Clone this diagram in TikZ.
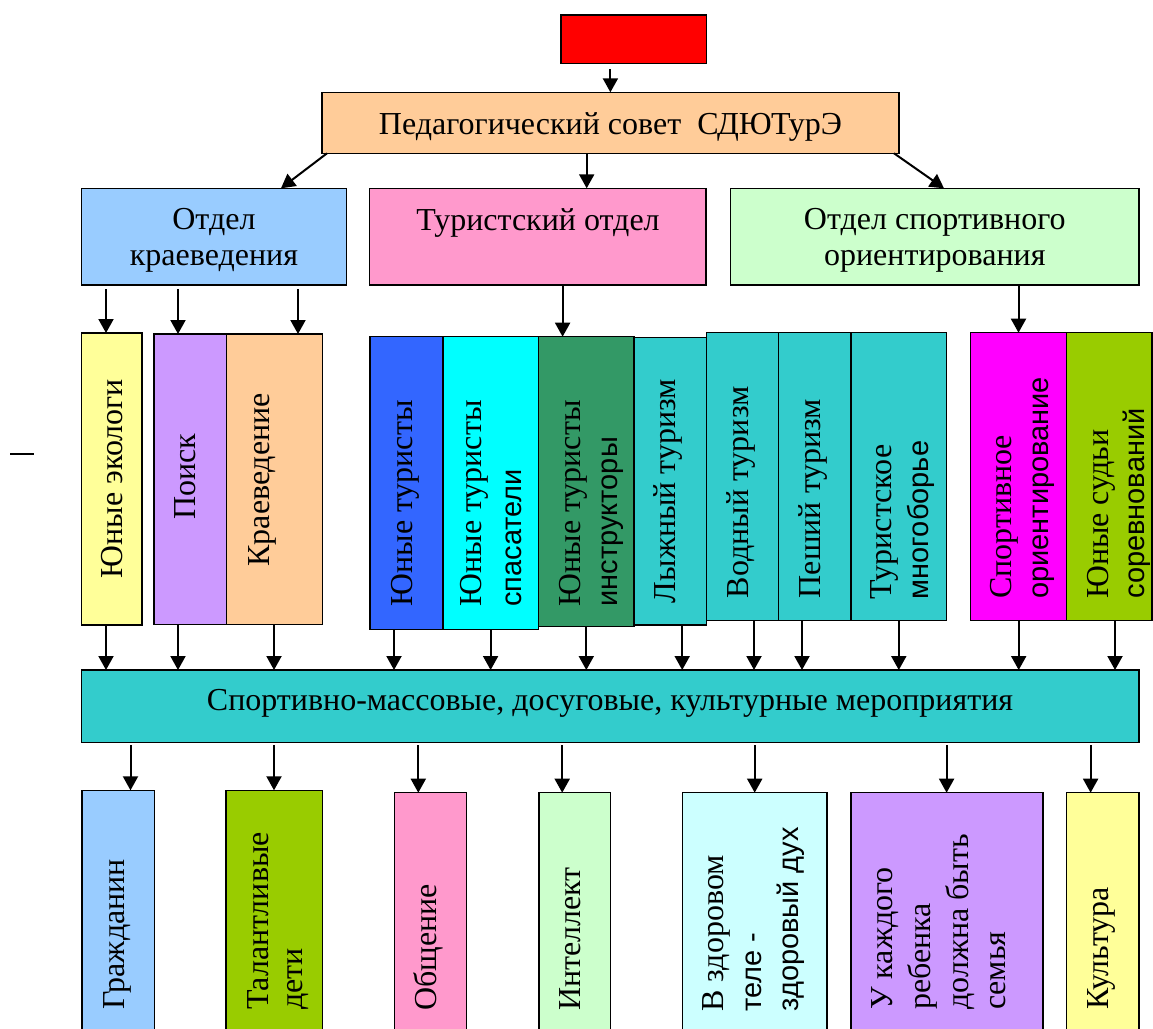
\documentclass[tikz,border=0pt]{standalone}
\usepackage{fontspec}
\setmainfont{Liberation Serif}
\newfontfamily\sansf{Liberation Sans}
\usetikzlibrary{arrows.meta}
\definecolor{cRed}{HTML}{FF0000}
\definecolor{cPeach}{HTML}{FFCC99}
\definecolor{cSky}{HTML}{99CCFF}
\definecolor{cPink}{HTML}{FF99CC}
\definecolor{cMint}{HTML}{CCFFCC}
\definecolor{cLemon}{HTML}{FFFF99}
\definecolor{cLilac}{HTML}{CC99FF}
\definecolor{cBlue}{HTML}{3366FF}
\definecolor{cAqua}{HTML}{00FFFF}
\definecolor{cSea}{HTML}{339966}
\definecolor{cTeal}{HTML}{33CCCC}
\definecolor{cMag}{HTML}{FF00FF}
\definecolor{cLime}{HTML}{99CC00}
\definecolor{cIce}{HTML}{CCFFFF}
\tikzset{
  box/.style={draw=black, line width=1.5pt, inner sep=0pt, outer sep=0pt},
  arr/.style={line width=2pt, -{Triangle[length=14pt,width=15pt]}},
  ht/.style={inner sep=0pt, anchor=base, font=\fontsize{32}{36}\selectfont},
  vt/.style={inner sep=0pt, anchor=base west, rotate=90, font=\fontsize{32}{36}\selectfont},
  vs/.style={inner sep=0pt, anchor=base west, rotate=90, font=\sansf\fontsize{29}{34}\selectfont},
}
\newcommand\mkbox[6]{\node[box,fill=#6,minimum width={(#4-#2)*1pt},minimum height={(#5-#3)*1pt}] (#1) at ({(#2+#4)/2},{(#3+#5)/2}) {};}
\begin{document}
\begin{tikzpicture}[x=1pt,y=-1pt]
\useasboundingbox (0,0) rectangle (1153,1028);
\clip (0,0) rectangle (1153,1028);
% top
\mkbox{red}{561}{15}{706.5}{63.3}{cRed}
\mkbox{ped}{322.2}{92.3}{898.8}{153.3}{cPeach}
\mkbox{kraev}{81.5}{188.3}{346.3}{285}{cSky}
\mkbox{tur}{369.7}{188.3}{706.2}{285}{cPink}
\mkbox{sport}{730.4}{188.3}{1139.2}{285}{cMint}
\node[ht] (ped-t) at (610.5,134.3) {Педагогический совет\ \ СДЮТурЭ};
\node[ht] (kraev-t1) at (213.9,229) {Отдел};
\node[ht] (kraev-t2) at (213.9,265.7) {краеведения};
\node[ht] (tur-t) at (538,230) {Туристский отдел};
\node[ht] (sport-t1) at (934.8,229) {Отдел спортивного};
\node[ht] (sport-t2) at (934.8,265.7) {ориентирования};
% middle
\mkbox{eko}{81.5}{333}{142}{625}{cLemon}
\mkbox{poisk}{154.2}{334}{226.6}{624.3}{cLilac}
\mkbox{krv}{226.6}{334}{322.6}{624.3}{cPeach}
\mkbox{jt}{370}{336.7}{442.8}{629.3}{cBlue}
\mkbox{jts}{442.8}{336.7}{538.5}{629.3}{cAqua}
\mkbox{jti}{538.5}{336.7}{634.2}{626.7}{cSea}
\mkbox{lyzh}{634.2}{337.3}{706.5}{625}{cTeal}
\mkbox{vod}{706.5}{332.7}{778.5}{620.7}{cTeal}
\mkbox{pesh}{778.5}{332.7}{850.8}{620.7}{cTeal}
\mkbox{mnog}{850.8}{332.7}{946.7}{620.7}{cTeal}
\mkbox{sor}{970.4}{332.7}{1066.7}{620.7}{cMag}
\mkbox{sud}{1066.7}{332.7}{1152}{620.7}{cLime}
\node[vt] (eko-t) at (122.5,578.3) {Юные экологи};
\node[vt] (poisk-t) at (195.5,520) {Поиск};
\node[vt] (krv-t) at (269,566.7) {Краеведение};
\node[vt] (jt-t) at (412.7,606.7) {Юные туристы};
\node[vt] (jts-t1) at (481.7,606.7) {Юные туристы};
\node[vs] (jts-t2) at (521,606.7) {спасатели};
\node[vt] (jti-t1) at (580,606.7) {Юные туристы};
\node[vs] (jti-t2) at (617,606.7) {инструкторы};
\node[vt] (lyzh-t) at (675.5,603.3) {Лыжный туризм};
\node[vt] (vod-t) at (748,598.3) {Водный туризм};
\node[vt] (pesh-t) at (820.5,598.3) {Пеший туризм};
\node[vt] (mnog-t1) at (891.7,599.3) {Туристское};
\node[vs] (mnog-t2) at (928.5,599.3) {многоборье};
\node[vt] (sor-t1) at (1011.7,599) {Спортивное};
\node[vs] (sor-t2) at (1048.5,599) {ориентирование};
\node[vt] (sud-t1) at (1108.3,599) {Юные судьи};
\node[vs] (sud-t2) at (1144.5,599) {соревнований};
% bar
\mkbox{bar}{81.5}{670}{1139}{742.3}{cTeal}
\node[ht] (bar-t) at (610,710) {Спортивно-массовые, досуговые, культурные мероприятия};
% bottom
\mkbox{grazh}{82}{790.3}{154.6}{1040}{cSky}
\mkbox{talant}{226.2}{790.3}{322.6}{1040}{cLime}
\mkbox{obsh}{394.6}{792.7}{466.5}{1040}{cPink}
\mkbox{intel}{538.8}{792.7}{610.3}{1040}{cMint}
\mkbox{zdor}{682.3}{792.7}{827}{1040}{cIce}
\mkbox{kazh}{850.8}{792.7}{1043}{1040}{cLilac}
\mkbox{kult}{1066.5}{792.7}{1139.2}{1040}{cLemon}
\node[vt] (grazh-t) at (124,1010) {Гражданин};
\node[vt] (talant-t1) at (268,1010) {Талантливые};
\node[vt] (talant-t2) at (302,1010) {дети};
\node[vt] (obsh-t) at (436,1011) {Общение};
\node[vt] (intel-t) at (580.5,1011) {Интеллект};
\node[vt] (zdor-t1) at (723.6,1011.7) {В здоровом};
\node[vs] (zdor-t2) at (761,1011.7) {теле -};
\node[vs] (zdor-t3) at (798.5,1011.7) {здоровый дух};
\node[vt] (kazh-t1) at (892.5,1010) {У каждого};
\node[vt] (kazh-t2) at (930.5,1010) {ребенка};
\node[vt] (kazh-t3) at (968,1010) {должна быть};
\node[vt] (kazh-t4) at (1005.5,1010) {семья};
\node[vt] (kult-t) at (1108,1010) {Культура};
% stray mark
\draw[line width=1.3pt] (10,454) -- (34,454);
% arrows top
\draw[arr,shorten <=6pt] (red.south -| 610.4,0) -- (ped.north -| 610.4,0);
\draw[arr] (ped.south -| 327,0) -- (kraev.north -| 281,0);
\draw[arr] (ped.south -| 586.7,0) -- (tur.north -| 586.7,0);
\draw[arr] (ped.south -| 894,0) -- (sport.north -| 944,0);
\draw[arr,shorten <=4pt] (kraev.south -| 106,0) -- (eko.north -| 106,0);
\draw[arr,shorten <=4pt] (kraev.south -| 178,0) -- (poisk.north -| 178,0);
\draw[arr,shorten <=4pt] (kraev.south -| 298,0) -- (krv.north -| 298,0);
\draw[arr] (tur.south -| 562.6,0) -- (jti.north -| 562.6,0);
\draw[arr] (sport.south -| 1018.5,0) -- (sor.north -| 1018.5,0);
% arrows to bar
\draw[arr] (eko.south -| 106,0) -- (bar.north -| 106,0);
\draw[arr] (poisk.south -| 178,0) -- (bar.north -| 178,0);
\draw[arr] (krv.south -| 274,0) -- (bar.north -| 274,0);
\draw[arr] (jt.south -| 394,0) -- (bar.north -| 394,0);
\draw[arr] (jts.south -| 490.6,0) -- (bar.north -| 490.6,0);
\draw[arr] (jti.south -| 586.3,0) -- (bar.north -| 586.3,0);
\draw[arr] (lyzh.south -| 682.2,0) -- (bar.north -| 682.2,0);
\draw[arr] (vod.south -| 754,0) -- (bar.north -| 754,0);
\draw[arr] (pesh.south -| 802,0) -- (bar.north -| 802,0);
\draw[arr] (mnog.south -| 898.8,0) -- (bar.north -| 898.8,0);
\draw[arr] (sor.south -| 1018.7,0) -- (bar.north -| 1018.7,0);
\draw[arr] (sud.south -| 1115,0) -- (bar.north -| 1115,0);
% arrows from bar
\draw[arr,shorten <=3pt] (bar.south -| 130.5,0) -- (grazh.north -| 130.5,0);
\draw[arr,shorten <=3pt] (bar.south -| 274,0) -- (talant.north -| 274,0);
\draw[arr,shorten <=3pt] (bar.south -| 418.3,0) -- (obsh.north -| 418.3,0);
\draw[arr,shorten <=3pt] (bar.south -| 562.2,0) -- (intel.north -| 562.2,0);
\draw[arr,shorten <=3pt] (bar.south -| 754.7,0) -- (zdor.north -| 754.7,0);
\draw[arr,shorten <=3pt] (bar.south -| 946.6,0) -- (kazh.north -| 946.6,0);
\draw[arr,shorten <=3pt] (bar.south -| 1090.6,0) -- (kult.north -| 1090.6,0);
\end{tikzpicture}
\end{document}
